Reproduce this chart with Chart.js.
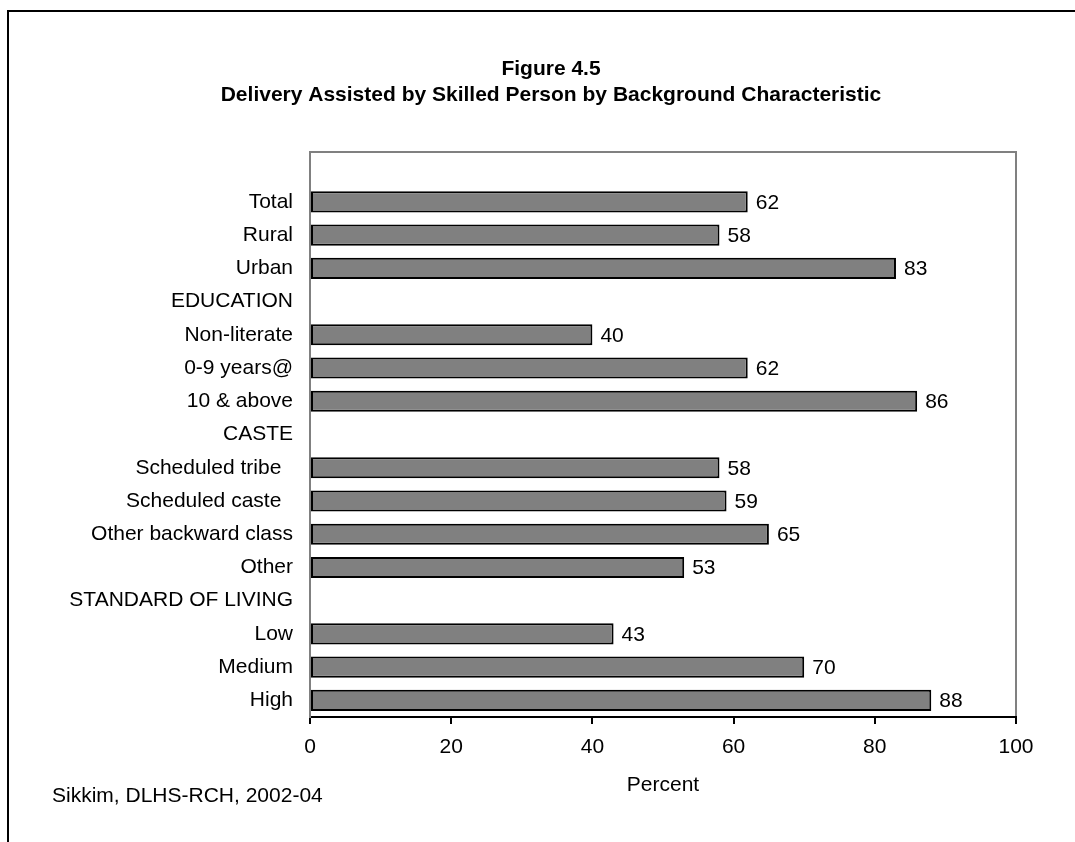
<!DOCTYPE html>
<html>
<head>
<meta charset="utf-8">
<script src="https://cdn.jsdelivr.net/npm/chart.js@4/dist/chart.umd.min.js"></script>
<style>
  html, body { margin: 0; padding: 0; background: #fff; }
  #wrap { width: 1075px; height: 842px; position: relative; }
  canvas { display: block; }
</style>
</head>
<body>
<div id="wrap"><canvas id="c" width="1075" height="842"></canvas></div>
<script>
const FONT = "'Liberation Sans', Arial, Helvetica, sans-serif";

const titleLines = ["Figure 4.5", "Delivery Assisted by Skilled Person by Background Characteristic"];
const sourceNote = "Sikkim, DLHS-RCH, 2002-04";
const axisTitle = "Percent";

// Row labels, top to bottom (group headings carry no bar)
const categories = [
  "",
  "Total", "Rural", "Urban",
  "EDUCATION", "Non-literate", "0-9 years@", "10 & above",
  "CASTE", "Scheduled tribe  ", "Scheduled caste  ", "Other backward class", "Other",
  "STANDARD OF LIVING", "Low", "Medium", "High"
];

// Percent of deliveries assisted by a skilled person
const percentValues = [
  null,
  62, 58, 83,
  null, 40, 62, 86,
  null, 58, 59, 65, 53,
  null, 43, 70, 88
];

const xTickValues = [0, 20, 40, 60, 80, 100];

const decorations = {
  id: 'decorations',
  beforeDraw(chart) {
    const { ctx, chartArea: a } = chart;
    ctx.save();
    ctx.fillStyle = '#fff';
    ctx.fillRect(0, 0, chart.width, chart.height);

    // outer chart frame (runs past the right and bottom edges)
    ctx.strokeStyle = '#000';
    ctx.lineWidth = 2;
    ctx.strokeRect(8, 11, chart.width + 40, chart.height + 40);

    // grey plot-area frame, top and right sides
    ctx.strokeStyle = '#808080';
    ctx.lineWidth = 2;
    ctx.beginPath();
    ctx.moveTo(a.left, a.top);
    ctx.lineTo(a.right, a.top);
    ctx.lineTo(a.right, a.bottom);
    ctx.stroke();

    // heading
    ctx.fillStyle = '#000';
    ctx.font = 'bold 21px ' + FONT;
    ctx.textAlign = 'center';
    ctx.textBaseline = 'middle';
    titleLines.forEach((t, i) => ctx.fillText(t, 551, 69 + i * 26));

    // source note
    ctx.font = '21px ' + FONT;
    ctx.textAlign = 'left';
    ctx.fillText(sourceNote, 52, 796);
    ctx.restore();
  },
  afterDatasetsDraw(chart) {
    const { ctx } = chart;
    const meta = chart.getDatasetMeta(0);
    const data = chart.data.datasets[0].data;
    ctx.save();
    ctx.fillStyle = '#000';
    ctx.font = '21px ' + FONT;
    ctx.textAlign = 'left';
    ctx.textBaseline = 'middle';
    meta.data.forEach((bar, i) => {
      if (data[i] === null || data[i] === undefined) return;
      ctx.fillText(String(data[i]), bar.x + 8, bar.y + 1);
    });
    ctx.restore();
  }
};

new Chart(document.getElementById('c'), {
  type: 'bar',
  data: {
    labels: categories,
    datasets: [{
      data: percentValues,
      backgroundColor: '#808080',
      borderColor: '#000',
      borderWidth: 2,
      borderSkipped: false,
      categoryPercentage: 1,
      barPercentage: 0.635
    }]
  },
  options: {
    indexAxis: 'y',
    responsive: false,
    animation: false,
    devicePixelRatio: 1,
    layout: { padding: { left: 0, top: 152, right: 59, bottom: 0 } },
    plugins: {
      legend: { display: false },
      title: { display: false },
      tooltip: { enabled: false }
    },
    scales: {
      x: {
        type: 'linear',
        min: 0,
        max: 100,
        afterBuildTicks(scale) {
          scale.ticks = xTickValues.map(v => ({ value: v }));
        },
        afterFit(scale) { scale.height = 125; },
        ticks: {
          color: '#000',
          font: { family: FONT, size: 21 },
          padding: 11,
          maxRotation: 0
        },
        grid: {
          drawOnChartArea: false,
          drawTicks: true,
          tickLength: 7,
          color: '#000',
          lineWidth: 2
        },
        border: { color: '#000', width: 2 },
        title: {
          display: true,
          text: axisTitle,
          color: '#000',
          font: { family: FONT, size: 21 },
          padding: { top: 0, bottom: 44 }
        }
      },
      y: {
        type: 'category',
        afterFit(scale) { scale.width = 310; },
        ticks: {
          color: '#000',
          font: { family: FONT, size: 21 },
          padding: 17,
          autoSkip: false
        },
        grid: { display: false, drawTicks: false },
        border: { color: '#808080', width: 2 }
      }
    }
  },
  plugins: [decorations]
});
</script>
</body>
</html>
